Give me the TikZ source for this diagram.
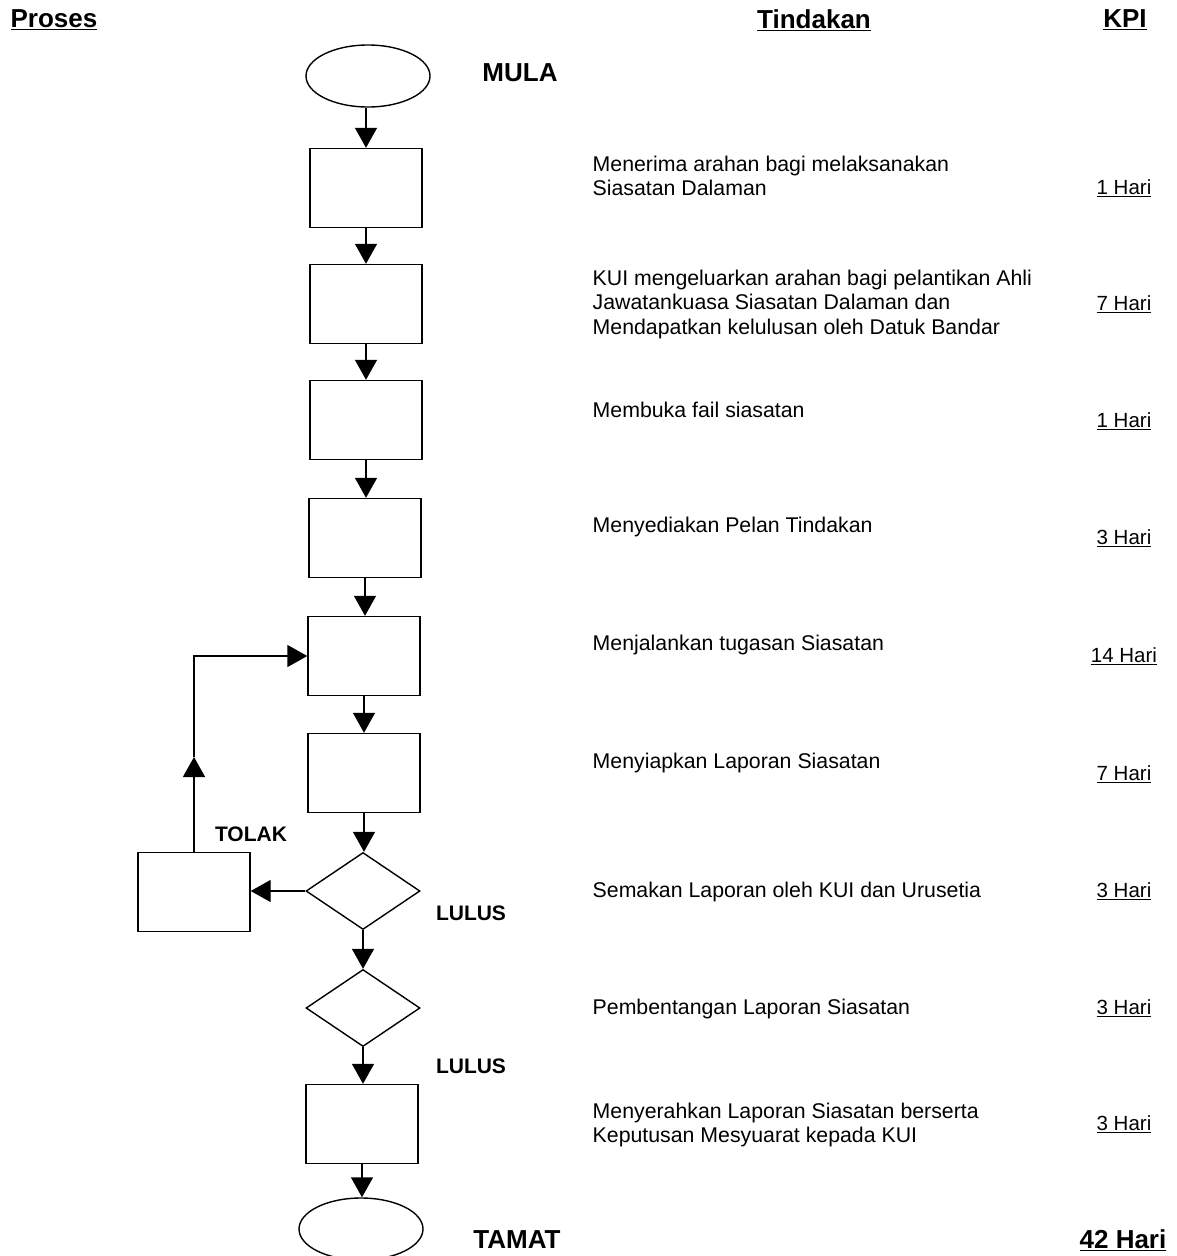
\documentclass[tikz,border=0pt]{standalone}
\usepackage{fontspec}
\setmainfont{Liberation Sans}
\usetikzlibrary{shapes.geometric,arrows.meta}
\begin{document}
\begin{tikzpicture}[x=1pt,y=-1pt,
  line width=1.4pt,
  procbox/.style={draw,rectangle,minimum width=112pt,minimum height=79pt,inner sep=0pt},
  termnode/.style={draw,ellipse,minimum width=124pt,minimum height=62pt,inner sep=0pt},
  decnode/.style={draw,diamond,aspect=1.48,minimum width=114pt,minimum height=77pt,inner sep=0pt},
  flow/.style={-{Triangle[length=20pt,width=22pt]}},
  bodytext/.style={anchor=west,align=left,inner sep=0pt,font=\fontsize{21.3}{24.5}\selectfont},
  kpitext/.style={inner sep=0pt,font=\fontsize{20.5}{24.5}\selectfont},
  headtext/.style={inner sep=0pt,font=\fontsize{26}{30}\selectfont\bfseries},
  labeltext/.style={inner sep=0pt,font=\fontsize{21}{25}\selectfont\bfseries}
]
\useasboundingbox (0,0) rectangle (1177,1256);
% headers
\node[headtext] (hproses) at (54,20) {\underline{Proses}};
\node[headtext] (htindakan) at (814,20) {\underline{Tindakan}};
\node[headtext] (hkpi) at (1125,20) {\underline{KPI}};
% main column
\node[termnode] (mula) at (368,76) {};
\node[procbox] (b1) at (366,188) {};
\node[procbox] (b2) at (366,304) {};
\node[procbox] (b3) at (366,420) {};
\node[procbox] (b4) at (365,538) {};
\node[procbox] (b5) at (364,656) {};
\node[procbox] (b6) at (364,773) {};
\node[decnode] (d1) at (363,891) {};
\node[decnode] (d2) at (363,1008) {};
\node[procbox] (b7) at (362,1124) {};
\node[termnode] (tamat) at (361,1229) {};
\node[procbox] (side) at (194,892) {};
% labels
\node[headtext] (lmula) at (520,73) {MULA};
\node[headtext] (ltamat) at (517,1240) {TAMAT};
\node[labeltext] (ltolak) at (251,834) {TOLAK};
\node[labeltext] (llulus1) at (471,913) {LULUS};
\node[labeltext] (llulus2) at (471,1066) {LULUS};
% connectors
\draw[flow] (mula.south -| b1.north) -- (b1.north);
\draw[flow] (b1.south) -- (b2.north);
\draw[flow] (b2.south) -- (b3.north);
\draw[flow] (b3.south) -- (b3.south |- b4.north);
\draw[flow] (b4.south) -- (b4.south |- b5.north);
\draw[flow] (b5.south) -- (b6.north);
\draw[flow] (b6.south) -- (b6.south |- d1.north);
\draw[flow] (d1.south) -- (d2.north);
\draw[flow] (d2.south) -- (d2.south |- b7.north);
\draw[flow] (b7.south) -- (b7.south |- tamat.north);
\draw[flow] (d1.west) -- (d1.west -| side.east);
\coordinate (midup) at (194,757);
\draw[flow] (side.north) -- (midup);
\draw[flow] (midup) -- (side.north |- b5.west) -- (b5.west);
% actions
\node[bodytext] (t1) at (592,176) {Menerima arahan bagi melaksanakan\\Siasatan Dalaman};
\node[bodytext] (t2) at (592,304) {KUI mengeluarkan arahan bagi pelantikan Ahli\\Jawatankuasa Siasatan Dalaman dan\\Mendapatkan kelulusan oleh Datuk Bandar};
\node[bodytext] (t3) at (592,410) {Membuka fail siasatan};
\node[bodytext] (t4) at (592,527) {Menyediakan Pelan Tindakan};
\node[bodytext] (t5) at (592,645) {Menjalankan tugasan Siasatan};
\node[bodytext] (t6) at (592,763) {Menyiapkan Laporan Siasatan};
\node[bodytext] (t7) at (592,892) {Semakan Laporan oleh KUI dan Urusetia};
\node[bodytext] (t8) at (592,1009) {Pembentangan Laporan Siasatan};
\node[bodytext] (t9) at (592,1125) {Menyerahkan Laporan Siasatan berserta\\Keputusan Mesyuarat kepada KUI};
% KPI
\node[kpitext] (k1) at (1124,188) {\underline{1 Hari}};
\node[kpitext] (k2) at (1124,304) {\underline{7 Hari}};
\node[kpitext] (k3) at (1124,421) {\underline{1 Hari}};
\node[kpitext] (k4) at (1124,538) {\underline{3 Hari}};
\node[kpitext] (k5) at (1124,656) {\underline{14 Hari}};
\node[kpitext] (k6) at (1124,774) {\underline{7 Hari}};
\node[kpitext] (k7) at (1124,891) {\underline{3 Hari}};
\node[kpitext] (k8) at (1124,1008) {\underline{3 Hari}};
\node[kpitext] (k9) at (1124,1124) {\underline{3 Hari}};
\node[headtext] (ktotal) at (1123,1240) {\underline{42 Hari}};
\end{tikzpicture}
\end{document}
